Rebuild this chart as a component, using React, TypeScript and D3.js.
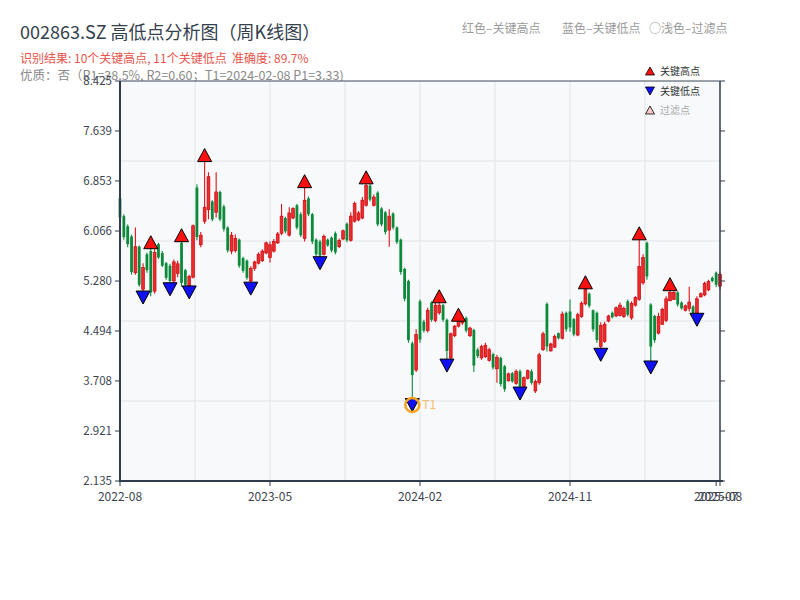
import * as d3 from 'd3';

// weekly candles: [open, high, low, close]
const ohlc: [number, number, number, number][] = [
  [6.58, 6.62, 6.22, 6.28], [6.30, 6.33, 5.93, 5.97], [6.14, 6.17, 5.81, 5.86], [5.98, 6.01, 5.38, 5.42],
  [5.41, 6.12, 5.38, 5.82], [5.82, 5.84, 5.19, 5.22], [5.15, 5.56, 5.02, 5.49], [5.70, 5.73, 5.41, 5.45],
  [5.75, 5.89, 5.04, 5.10], [5.12, 5.78, 5.08, 5.73], [5.86, 5.88, 5.63, 5.65], [5.72, 5.75, 5.50, 5.52],
  [5.56, 5.58, 5.30, 5.33], [5.52, 5.55, 5.15, 5.28], [5.28, 5.62, 5.25, 5.58], [5.40, 5.60, 5.34, 5.55],
  [5.88, 6.00, 5.19, 5.25], [5.45, 5.47, 5.19, 5.22], [5.20, 5.38, 5.10, 5.35], [5.34, 6.17, 5.32, 6.15],
  [6.75, 6.80, 5.92, 5.97], [5.85, 6.05, 5.81, 6.00], [6.22, 7.26, 6.18, 6.44], [6.40, 6.99, 6.25, 6.92],
  [6.53, 6.55, 6.22, 6.25], [6.36, 6.99, 6.28, 6.68], [6.68, 6.70, 6.22, 6.25], [6.45, 6.48, 6.06, 6.10],
  [6.12, 6.14, 5.73, 5.76], [5.75, 6.05, 5.70, 6.00], [5.76, 6.01, 5.73, 5.95], [5.93, 5.95, 5.49, 5.52],
  [5.64, 5.66, 5.41, 5.44], [5.60, 5.62, 5.30, 5.33], [5.28, 5.51, 5.16, 5.48], [5.48, 5.60, 5.44, 5.58],
  [5.56, 5.73, 5.54, 5.70], [5.60, 5.78, 5.58, 5.75], [5.72, 5.90, 5.70, 5.88], [5.65, 5.90, 5.57, 5.85],
  [5.75, 5.94, 5.73, 5.90], [5.88, 6.05, 5.86, 6.02], [6.03, 6.49, 6.00, 6.30], [6.27, 6.29, 6.03, 6.06],
  [6.00, 6.44, 5.98, 6.35], [6.27, 6.44, 6.25, 6.42], [6.47, 6.49, 6.09, 6.12], [6.33, 6.36, 5.97, 6.00],
  [5.95, 6.85, 5.90, 6.55], [6.58, 6.61, 6.30, 6.33], [6.33, 6.35, 5.86, 5.90], [5.93, 5.95, 5.67, 5.70],
  [5.90, 5.93, 5.56, 5.68], [5.70, 6.01, 5.68, 5.98], [5.93, 5.95, 5.82, 5.84], [5.96, 5.98, 5.73, 5.76],
  [6.03, 6.06, 5.70, 5.73], [5.82, 5.95, 5.80, 5.92], [5.94, 6.09, 5.92, 6.07], [6.18, 6.20, 5.89, 5.92],
  [5.92, 6.36, 5.90, 6.30], [6.22, 6.53, 6.20, 6.50], [6.24, 6.38, 6.22, 6.35], [6.27, 6.60, 6.25, 6.55],
  [6.47, 6.91, 6.45, 6.78], [6.78, 6.80, 6.53, 6.56], [6.47, 6.64, 6.45, 6.60], [6.67, 6.69, 6.14, 6.17],
  [6.42, 6.44, 6.14, 6.17], [6.36, 6.38, 6.01, 6.05], [6.08, 6.41, 5.82, 6.30], [6.34, 6.36, 6.09, 6.12],
  [6.12, 6.14, 5.86, 5.89], [5.93, 5.95, 5.38, 5.42], [5.47, 5.49, 4.96, 5.00], [5.28, 5.30, 4.31, 4.35],
  [4.30, 4.33, 3.33, 3.80], [3.88, 4.52, 3.85, 4.44], [4.96, 4.99, 4.31, 4.36], [4.64, 4.67, 4.47, 4.50],
  [4.50, 4.86, 4.47, 4.82], [4.94, 4.96, 4.64, 4.67], [4.66, 4.94, 4.63, 4.90], [4.78, 5.04, 4.75, 4.90],
  [4.90, 4.92, 4.64, 4.67], [4.67, 4.69, 3.95, 4.18], [4.07, 4.47, 4.04, 4.45], [4.42, 4.59, 4.40, 4.57],
  [4.57, 4.75, 4.55, 4.68], [4.62, 4.69, 4.59, 4.67], [4.70, 4.72, 4.47, 4.50], [4.42, 4.56, 4.40, 4.54],
  [4.51, 4.53, 3.85, 3.95], [4.20, 4.23, 4.07, 4.10], [4.07, 4.28, 4.04, 4.25], [4.09, 4.31, 4.07, 4.27],
  [4.03, 4.23, 4.01, 4.20], [4.13, 4.15, 3.89, 3.92], [3.90, 4.12, 3.68, 4.08], [4.07, 4.09, 3.62, 3.66],
  [3.94, 3.96, 3.54, 3.58], [3.71, 3.84, 3.70, 3.82], [3.83, 3.85, 3.68, 3.70], [3.67, 3.89, 3.65, 3.86],
  [3.86, 3.89, 3.51, 3.62], [3.62, 3.78, 3.60, 3.76], [3.75, 3.89, 3.73, 3.87], [3.86, 3.89, 3.65, 3.68],
  [3.55, 3.73, 3.52, 3.70], [3.68, 4.15, 3.65, 4.12], [4.20, 4.48, 4.18, 4.45], [4.92, 4.94, 4.17, 4.25],
  [4.18, 4.31, 4.17, 4.29], [4.24, 4.44, 4.23, 4.41], [4.46, 4.47, 4.36, 4.38], [4.38, 4.80, 4.36, 4.76],
  [4.78, 4.80, 4.48, 4.52], [4.80, 4.99, 4.48, 4.55], [4.68, 4.70, 4.41, 4.44], [4.43, 4.78, 4.41, 4.75],
  [4.72, 4.96, 4.70, 4.93], [4.92, 5.26, 4.90, 5.15], [5.08, 5.10, 4.86, 4.89], [4.82, 4.83, 4.48, 4.52],
  [4.78, 4.80, 4.31, 4.35], [4.25, 4.63, 4.12, 4.58], [4.33, 4.64, 4.31, 4.60], [4.65, 4.75, 4.63, 4.73],
  [4.78, 4.80, 4.69, 4.71], [4.73, 4.88, 4.71, 4.86], [4.74, 4.94, 4.72, 4.90], [4.72, 4.88, 4.70, 4.85],
  [4.96, 4.99, 4.72, 4.75], [4.70, 4.96, 4.67, 4.93], [4.90, 5.04, 4.88, 5.02], [4.99, 6.03, 4.97, 5.51],
  [5.25, 5.70, 5.22, 5.65], [5.88, 5.90, 5.30, 5.35], [4.91, 4.93, 3.92, 4.25], [4.73, 4.75, 4.31, 4.35],
  [4.46, 4.78, 4.44, 4.72], [4.60, 4.86, 4.59, 4.83], [4.66, 5.04, 4.63, 5.00], [4.97, 5.23, 4.96, 5.10],
  [4.99, 5.12, 4.98, 5.10], [5.10, 5.12, 4.88, 4.91], [4.94, 4.96, 4.83, 4.85], [4.82, 4.91, 4.80, 4.89],
  [4.85, 5.19, 4.80, 4.95], [4.88, 4.90, 4.75, 4.77], [4.75, 5.04, 4.67, 5.00], [5.03, 5.10, 5.02, 5.08],
  [5.06, 5.27, 5.04, 5.24], [5.14, 5.30, 5.12, 5.27], [5.33, 5.35, 5.26, 5.28], [5.41, 5.43, 5.18, 5.22],
  [5.20, 5.43, 5.15, 5.38],
];

const keyHighIdx = [8, 16, 22, 48, 64, 83, 88, 121, 135, 143];
const keyLowIdx = [6, 13, 18, 34, 52, 76, 85, 104, 125, 138, 150];
const t1Idx = 76;

const yTicks = [8.425, 7.639, 6.853, 6.066, 5.28, 4.494, 3.708, 2.921, 2.135];
const xTickIdx = [0, 39, 78, 117, 155, 156];
const xTickLabels = ['2022-08', '2023-05', '2024-02', '2024-11', '2025-07', '2025-08'];

const FONT = '"Noto Sans CJK SC", "Noto Sans", sans-serif';
const RED = '#e0121a';
const GREEN = '#0b8a3a';

const left = 120, right = 720, top = 81, bottom = 481;

export default function App() {
  const x = d3.scaleLinear().domain([0, ohlc.length - 1]).range([left, right]);
  const y = d3.scaleLinear().domain([2.135, 8.425]).range([bottom, top]);
  const bw = 2.8;

  const tri = (cx: number, cy: number, up: boolean, s = 7) =>
    up
      ? `M${cx},${cy - s + 0.5}L${cx + s},${cy + s - 0.5}L${cx - s},${cy + s - 0.5}Z`
      : `M${cx},${cy + s - 0.5}L${cx + s},${cy - s + 0.5}L${cx - s},${cy - s + 0.5}Z`;

  const w = right - left, h = bottom - top;

  return (
    <svg width={800} height={600} style={{ position: 'absolute', left: 0, top: 0, background: '#fff' }} fontFamily={FONT}>
      {/* header */}
      <text x={20} y={39} fontSize={18} fill="#34404e">002863.SZ 高低点分析图（周K线图）</text>
      <text x={20} y={63} fontSize={12} fill="#e9534b" style={{ whiteSpace: 'pre' }}>识别结果: 10个关键高点, 11个关键低点{'\u00a0\u00a0'}准确度: 89.7%</text>
      <text x={20} y={80} fontSize={12.5} fill="#8a8a8a">优质：否（R1=38.5%, R2=0.60；T1=2024-02-08 P1=3.33)</text>
      <text x={462} y={33} fontSize={12} fill="#9a9a9a">红色–关键高点</text>
      <text x={562} y={33} fontSize={12} fill="#9a9a9a">蓝色–关键低点</text>
      <text x={649} y={33} fontSize={12} fill="#9a9a9a">○浅色–过滤点</text>

      {/* plot background + grid */}
      <rect x={left} y={top} width={w} height={h} fill="#f7f9fb" />
      {d3.range(1, 5).map(k => (
        <line key={'gy' + k} x1={left} x2={right} y1={top + (k * h) / 5} y2={top + (k * h) / 5} stroke="#e1e4e9" />
      ))}
      {d3.range(1, 8).map(k => (
        <line key={'gx' + k} y1={top} y2={bottom} x1={left + (k * w) / 8} x2={left + (k * w) / 8} stroke="#e1e4e9" />
      ))}

      {/* candles */}
      {ohlc.map(([o, hi, lo, c], i) => {
        const up = c >= o;
        const col = up ? RED : GREEN;
        const yt = y(Math.max(o, c)), yb = y(Math.min(o, c));
        return (
          <g key={i}>
            <line x1={x(i)} x2={x(i)} y1={y(hi)} y2={y(lo)} stroke={col} strokeWidth={1.1} />
            <rect x={x(i) - bw / 2} y={yt} width={bw} height={Math.max(1, yb - yt)}
              fill={up ? '#ee2a2a' : GREEN} stroke={up ? '#c80c12' : 'none'} strokeWidth={0.7} />
          </g>
        );
      })}

      {/* key points */}
      {keyHighIdx.map(i => (
        <path key={'h' + i} d={tri(x(i), y(ohlc[i][1]), true)} fill="#ff1010" stroke="#000" strokeWidth={1} />
      ))}
      {keyLowIdx.map(i => (
        <path key={'l' + i} d={tri(x(i), y(ohlc[i][2]), false)} fill="#1010f5" stroke="#000" strokeWidth={1} />
      ))}
      <circle cx={x(t1Idx)} cy={y(ohlc[t1Idx][2])} r={7} fill="none" stroke="#f5a31f" strokeWidth={2.5} />
      <text x={x(t1Idx) + 10} y={y(ohlc[t1Idx][2]) + 4} fontSize={12} fill="#f4be6c">T1</text>

      {/* frame / axes */}
      <line x1={left} x2={right} y1={top} y2={top} stroke="#3b4756" strokeWidth={1} />
      <line x1={right} x2={right} y1={top} y2={bottom} stroke="#2f3c4c" strokeWidth={1.5} />
      <line x1={left} x2={left} y1={top} y2={bottom + 1} stroke="#2f3c4c" strokeWidth={2} />
      <line x1={left - 1} x2={right + 3} y1={bottom} y2={bottom} stroke="#2f3c4c" strokeWidth={2} />
      {yTicks.map(t => (
        <g key={'yt' + t}>
          <line x1={left - 5} x2={left} y1={y(t)} y2={y(t)} stroke="#2f3c4c" />
          <line x1={right} x2={right + 5} y1={y(t)} y2={y(t)} stroke="#2f3c4c" />
          <text x={left - 8} y={y(t) + 4} fontSize={11.5} fill="#3c4450" textAnchor="end">{t.toFixed(3)}</text>
        </g>
      ))}
      {xTickIdx.map((t, k) => (
        <g key={'xt' + k}>
          <line x1={x(t)} x2={x(t)} y1={bottom} y2={bottom + 5} stroke="#2f3c4c" />
          <text x={x(t)} y={bottom + 20} fontSize={12} fill="#3c4450" textAnchor="middle">{xTickLabels[k]}</text>
        </g>
      ))}

      {/* legend */}
      <path d={tri(650, 71, true, 4.5)} fill="#ff1010" stroke="#000" strokeWidth={0.8} />
      <text x={660} y={75} fontSize={10} fill="#333">关键高点</text>
      <path d={tri(650, 91, false, 4.5)} fill="#1010f5" stroke="#000" strokeWidth={0.8} />
      <text x={660} y={95} fontSize={10} fill="#333">关键低点</text>
      <path d={tri(650, 110, true, 4.5)} fill="#ffc8c8" stroke="#000" strokeWidth={0.8} />
      <text x={660} y={114} fontSize={10} fill="#aaa">过滤点</text>
    </svg>
  );
}
